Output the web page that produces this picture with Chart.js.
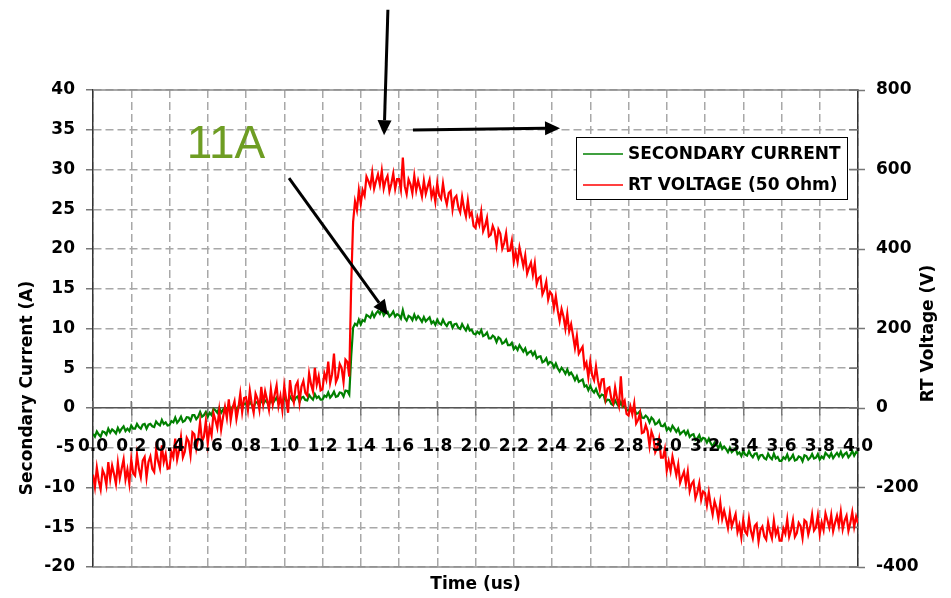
<!DOCTYPE html>
<html>
<head>
<meta charset="utf-8">
<script src="https://cdn.jsdelivr.net/npm/chart.js@4.4.0/dist/chart.umd.min.js"></script>
<style>
  html, body { margin: 0; padding: 0; background: #ffffff; }
  #wrap { width: 951px; height: 598px; }
</style>
</head>
<body>
<div id="wrap"><canvas id="c" width="951" height="598"></canvas></div>
<script>
// ---------------- DATA ----------------
const seriesNames = ['SECONDARY CURRENT', 'RT VOLTAGE (50 Ohm)'];
const sampleStepUs = 0.01; // samples read every 0.01 us, 0.00 .. 4.00

// Secondary current (A), one row = 0.1 us (10 samples)
const secondaryCurrent = [
  -3.25,-3.6,-2.95,-3.35,-3.6,-2.95,-3.05,-3.35,-2.6,-3.1,
  -2.7,-2.9,-3.2,-2.5,-3.0,-2.6,-2.3,-2.9,-2.6,-2.9,
  -2.2,-2.6,-2.6,-2.0,-2.4,-2.6,-2.1,-2.0,-2.6,-2.1,
  -2.0,-2.3,-2.4,-1.7,-2.0,-2.2,-1.5,-2.0,-1.8,-2.2,
  -2.15,-1.65,-1.8,-1.2,-1.85,-1.55,-1.1,-1.75,-1.6,-1.15,
  -1.2,-1.6,-0.9,-0.9,-1.4,-1.1,-0.5,-1.1,-0.9,-0.5,
  -1.1,-0.6,-0.9,-0.1,-0.3,-0.6,0.0,-0.6,-0.2,0.1,
  -0.2,0.4,-0.25,0.15,0.35,-0.2,0.15,0.65,0.1,0.55,
  0.55,0.2,0.8,0.4,0.1,0.75,0.65,0.3,1.05,0.5,
  0.95,0.75,0.4,1.1,0.6,0.95,1.3,0.6,0.95,0.55,
  1.3,0.9,0.85,1.45,1.05,0.8,1.3,1.45,0.75,1.3,
  1.4,1.0,0.95,1.65,1.3,1.05,1.75,1.25,1.45,1.05,
  1.05,1.55,1.4,1.95,1.3,1.6,2.05,1.4,1.5,1.95,
  1.9,1.45,2.2,2.15,1.7,6.5,10.1,10.6,10.4,11.1,
  10.5,11.05,10.9,11.7,11.55,11.35,12.0,11.45,11.9,12.2,
  11.85,12.4,11.65,12.0,12.1,11.5,11.75,12.15,11.5,11.8,
  11.65,11.25,12.3,11.35,11.0,11.6,11.45,11.05,11.75,11.15,
  11.55,11.25,10.85,11.45,10.9,11.15,11.4,10.65,10.9,10.45,
  11.1,10.65,10.5,11.1,10.6,10.3,10.75,10.8,10.1,10.55,
  10.6,10.1,9.95,10.55,10.1,9.75,10.35,9.75,9.85,9.35,
  9.25,9.6,9.35,9.8,9.05,9.2,9.5,8.75,8.75,9.1,
  8.9,8.3,8.9,8.7,8.1,8.25,8.6,7.9,7.9,8.2,
  7.4,7.7,7.3,7.9,7.5,7.1,7.5,6.75,7.0,7.15,
  6.65,7.05,6.25,6.45,6.5,5.75,5.9,6.25,5.5,5.8,
  5.65,5.1,5.6,5.0,4.6,5.05,4.75,4.3,4.85,4.2,
  4.45,4.05,3.5,4.0,3.3,3.45,3.6,2.7,2.85,2.25,
  2.8,2.25,1.95,2.4,1.75,1.35,1.7,1.6,0.75,1.05,
  1.0,0.5,0.35,0.95,0.5,0.15,0.75,0.15,0.25,-0.25,
  -0.35,-0.05,-0.35,0.05,-0.75,-0.65,-0.4,-1.2,-1.25,-0.95,
  -1.2,-1.8,-1.2,-1.45,-2.05,-1.9,-1.55,-2.25,-2.3,-2.0,
  -2.8,-2.5,-2.85,-2.25,-2.6,-3.0,-2.6,-3.3,-3.05,-2.85,
  -3.35,-2.9,-3.65,-3.4,-3.3,-4.0,-3.8,-3.4,-4.1,-3.75,
  -3.85,-4.35,-3.85,-4.45,-4.85,-4.35,-4.6,-5.05,-4.5,-5.15,
  -4.85,-5.15,-5.55,-5.0,-5.55,-5.3,-5.05,-5.8,-5.6,-6.05,
  -5.4,-5.85,-6.0,-5.4,-5.9,-6.2,-5.75,-5.7,-6.4,-5.95,
  -5.9,-6.3,-6.45,-5.75,-6.2,-6.45,-5.75,-6.35,-6.15,-6.65,
  -6.65,-6.2,-6.4,-5.85,-6.55,-6.3,-5.9,-6.6,-6.5,-6.1,
  -6.2,-6.7,-5.95,-6.05,-6.5,-6.25,-5.8,-6.35,-6.25,-5.8,
  -6.5,-6.1,-6.35,-5.65,-5.9,-6.2,-5.7,-6.3,-5.95,-5.65,
  -6.05,-5.5,-6.15,-5.8,-5.6,-6.2,-5.9,-5.4,-6.0,-5.55,
  -5.7
];

// RT voltage (V), one row = 0.1 us (10 samples)
const rtVoltage = [
  -168,-199,-150,-183,-205,-156,-168,-194,-136,-179,
  -145,-166,-191,-138,-177,-152,-129,-180,-155,-190,
  -129,-164,-170,-117,-153,-174,-132,-123,-175,-136,
  -122,-153,-161,-105,-133,-152,-94,-136,-116,-153,
  -151,-110,-124,-77,-130,-107,-73,-124,-110,-75,
  -84,-119,-61,-66,-102,-77,-35,-84,-72,-33,
  -89,-49,-69,-13,-30,-50,-6,-54,-23,3,
  -25,22,-31,0,17,-28,-1,36,-10,25,
  27,-5,44,11,-12,36,23,-4,53,9,
  42,21,-4,48,9,34,57,5,30,-5,
  56,22,-12,70,34,14,56,66,14,54,
  68,38,31,87,60,42,101,59,80,44,
  47,87,71,117,63,85,137,65,77,111,
  101,65,122,116,79,310,468,520,498,548,
  513,548,534,582,571,557,593,552,571,588,
  562,597,552,573,584,545,564,590,551,576,
  576,549,630,558,538,575,563,540,584,547,
  572,553,532,572,539,557,574,531,549,519,
  566,534,526,565,532,512,541,546,499,528,
  534,505,492,531,502,482,522,483,492,458,
  453,480,462,494,445,458,478,432,436,458,
  445,410,449,438,401,415,440,395,396,421,
  368,392,367,404,381,357,384,338,353,366,
  335,364,312,327,331,286,298,318,273,292,
  285,251,281,246,219,249,230,200,237,193,
  211,182,151,181,137,146,154,103,114,77,
  117,82,70,105,70,46,72,73,24,49,
  52,24,12,52,24,5,80,8,18,-15,
  -19,4,-16,12,-39,-30,-13,-63,-61,-43,
  -58,-96,-59,-73,-111,-100,-77,-125,-125,-103,
  -158,-134,-159,-122,-145,-169,-142,-188,-173,-160,
  -191,-160,-209,-191,-184,-227,-212,-189,-231,-210,
  -214,-245,-212,-244,-268,-235,-251,-278,-238,-279,
  -258,-279,-302,-264,-298,-282,-267,-312,-294,-326,
  -281,-311,-318,-278,-309,-328,-297,-291,-336,-306,
  -298,-323,-331,-288,-312,-328,-283,-318,-304,-334,
  -334,-303,-316,-280,-324,-307,-282,-324,-315,-289,
  -297,-327,-282,-287,-318,-299,-268,-308,-300,-270,
  -317,-288,-307,-265,-283,-301,-269,-310,-289,-271,
  -297,-261,-305,-283,-271,-309,-289,-262,-299,-273,
  -290
];

const xTickValues = [0,0.2,0.4,0.6,0.8,1.0,1.2,1.4,1.6,1.8,2.0,2.2,2.4,2.6,2.8,3.0,3.2,3.4,3.6,3.8,4.0];
const currentTickValues = [-20,-15,-10,-5,0,5,10,15,20,25,30,35,40];
const voltageTickValues = [-400,-200,0,200,400,600,800];
const voltageMinorTickValues = [-300,-100,100,300,500,700];

// Annotations in data units (time us, current A)
const annotationLabel = { text: '11A', t: 0.49, a: 31.4 };
const annotationArrows = [
  { from: [1.542, 50.1], to: [1.522, 34.3] },
  { from: [1.673, 34.97], to: [2.442, 35.2] },
  { from: [1.025, 28.9], to: [1.542, 11.7] }
];

// ---------------- BUILD ----------------
const toPoints = (vals) => vals.map((v, i) => ({ x: +(i * sampleStepUs).toFixed(2), y: v }));

const FONT = "'DejaVu Sans', 'Liberation Sans', Arial, sans-serif";
const GRID = '#a8a8a8';

const decor = {
  id: 'decor',
  beforeDatasetsDraw(chart) {
    const { ctx, chartArea: ca, scales } = chart;
    ctx.save();
    ctx.strokeStyle = '#8c8c8c';
    ctx.lineWidth = 1.5;
    ctx.beginPath();
    ctx.moveTo(ca.left, ca.top); ctx.lineTo(ca.right, ca.top);
    ctx.moveTo(ca.left, ca.bottom); ctx.lineTo(ca.right, ca.bottom);
    ctx.stroke();
    ctx.strokeStyle = '#777';
    ctx.lineWidth = 1.5;
    ctx.beginPath();
    voltageTickValues.concat(voltageMinorTickValues).forEach(v => {
      const py = scales.y2.getPixelForValue(v);
      ctx.moveTo(ca.right - 9, py); ctx.lineTo(ca.right, py);
    });
    const zy = scales.y.getPixelForValue(0);
    xTickValues.forEach(t => {
      const px = scales.x.getPixelForValue(t);
      ctx.moveTo(px, zy - 7); ctx.lineTo(px, zy);
    });
    ctx.stroke();
    ctx.restore();
  },
  afterDraw(chart) {
    const { ctx, chartArea: ca, scales } = chart;
    const X = t => scales.x.getPixelForValue(t);
    const Y = a => scales.y.getPixelForValue(a);
    ctx.save();
    ctx.fillStyle = '#000';
    ctx.font = 'bold 17px ' + FONT;
    ctx.textAlign = 'center';
    ctx.textBaseline = 'middle';
    ctx.save();
    ctx.translate(28, 388);
    ctx.rotate(-Math.PI / 2);
    ctx.fillText('Secondary Current (A)', 0, 0);
    ctx.restore();
    ctx.save();
    ctx.translate(929, (ca.top + ca.bottom) / 2 + 5);
    ctx.rotate(-Math.PI / 2);
    ctx.fillText('RT Voltage (V)', 0, 0);
    ctx.restore();

    // legend
    const lx = 576, ly = 137, lw = 271, lh = 62;
    ctx.fillStyle = '#fff';
    ctx.fillRect(lx, ly, lw, lh);
    ctx.strokeStyle = '#000';
    ctx.lineWidth = 1;
    ctx.strokeRect(lx + 0.5, ly + 0.5, lw, lh);
    chart.data.datasets.forEach((ds, i) => {
      const yy = ly + 17 + i * 31;
      ctx.strokeStyle = ds.borderColor;
      ctx.lineWidth = 1.5;
      ctx.beginPath();
      ctx.moveTo(lx + 7, yy); ctx.lineTo(lx + 47, yy);
      ctx.stroke();
      ctx.fillStyle = '#000';
      ctx.textAlign = 'left';
      ctx.textBaseline = 'middle';
      ctx.font = 'bold 17px ' + FONT;
      ctx.fillText(ds.label, lx + 52, yy + 1);
    });

    // annotation label
    ctx.fillStyle = '#6E9D23';
    ctx.font = '46px "Liberation Sans", Arial, sans-serif';
    ctx.textAlign = 'left';
    ctx.textBaseline = 'alphabetic';
    ctx.fillText(annotationLabel.text, X(annotationLabel.t), Y(annotationLabel.a));

    // arrows
    ctx.strokeStyle = '#000';
    ctx.fillStyle = '#000';
    ctx.lineWidth = 3;
    annotationArrows.forEach(a => {
      const x1 = X(a.from[0]), y1 = Y(a.from[1]);
      const x2 = X(a.to[0]), y2 = Y(a.to[1]);
      const ang = Math.atan2(y2 - y1, x2 - x1);
      const hl = 15, hw = 7;
      const bx = x2 - hl * Math.cos(ang), by = y2 - hl * Math.sin(ang);
      ctx.beginPath();
      ctx.moveTo(x1, y1); ctx.lineTo(bx, by);
      ctx.stroke();
      ctx.beginPath();
      ctx.moveTo(x2, y2);
      ctx.lineTo(bx + hw * Math.sin(ang), by - hw * Math.cos(ang));
      ctx.lineTo(bx - hw * Math.sin(ang), by + hw * Math.cos(ang));
      ctx.closePath();
      ctx.fill();
    });
    ctx.restore();
  }
};

new Chart(document.getElementById('c'), {
  type: 'line',
  data: {
    datasets: [
      {
        label: seriesNames[0],
        data: toPoints(secondaryCurrent),
        borderColor: '#008000',
        borderWidth: 2.2,
        pointRadius: 0,
        tension: 0,
        yAxisID: 'y',
        xAxisID: 'x',
        order: 1
      },
      {
        label: seriesNames[1],
        data: toPoints(rtVoltage),
        borderColor: '#FF0000',
        borderWidth: 2.2,
        pointRadius: 0,
        tension: 0,
        yAxisID: 'y2',
        xAxisID: 'x',
        order: 0
      }
    ]
  },
  options: {
    responsive: false,
    devicePixelRatio: 1,
    animation: false,
    events: [],
    layout: { padding: { top: 90, left: 0, right: 0, bottom: 0 } },
    plugins: { legend: { display: false }, tooltip: { enabled: false } },
    scales: {
      x: {
        type: 'linear',
        position: { y: 0 },
        min: 0, max: 4,
        afterBuildTicks: s => { s.ticks = xTickValues.map(v => ({ value: v })); },
        ticks: {
          z: 1,
          autoSkip: false,
          maxRotation: 0,
          padding: 21,
          color: '#000',
          font: { family: FONT, size: 17, weight: 'bold' },
          callback: v => Number(v).toFixed(1)
        },
        grid: { color: GRID, lineWidth: 1.5, tickLength: 7, tickColor: '#777', tickWidth: 1.5 },
        border: { display: true, color: '#555', width: 1.5, dash: [8, 4] }
      },
      x2: {
        type: 'linear',
        position: 'bottom',
        min: 0, max: 4,
        afterFit: s => { s.height = 31; },
        ticks: { display: false },
        grid: { display: false, drawTicks: false },
        border: { display: false },
        title: {
          display: true,
          text: 'Time (us)',
          color: '#000',
          font: { family: FONT, size: 17, weight: 'bold', lineHeight: 1.2 },
          padding: { top: 0, bottom: 3 }
        }
      },
      y: {
        type: 'linear',
        position: 'left',
        min: -20, max: 40,
        afterFit: s => { s.width = 93; },
        afterBuildTicks: s => { s.ticks = currentTickValues.map(v => ({ value: v })); },
        ticks: {
          padding: 11,
          color: '#000',
          font: { family: FONT, size: 17, weight: 'bold' }
        },
        grid: { color: GRID, lineWidth: 1.5, tickLength: 7, tickColor: '#777', tickWidth: 1.5 },
        border: { display: true, color: '#333', width: 1.5, dash: [8, 4] }
      },
      y2: {
        type: 'linear',
        position: 'right',
        min: -400, max: 800,
        afterFit: s => { s.width = 93; },
        afterBuildTicks: s => { s.ticks = voltageTickValues.map(v => ({ value: v })); },
        ticks: {
          padding: 11,
          color: '#000',
          font: { family: FONT, size: 17, weight: 'bold' }
        },
        grid: { drawOnChartArea: false, tickLength: 7, tickColor: '#777', tickWidth: 1.5 },
        border: { display: true, color: '#333', width: 1.5 }
      }
    }
  },
  plugins: [decor]
});
</script>
</body>
</html>
